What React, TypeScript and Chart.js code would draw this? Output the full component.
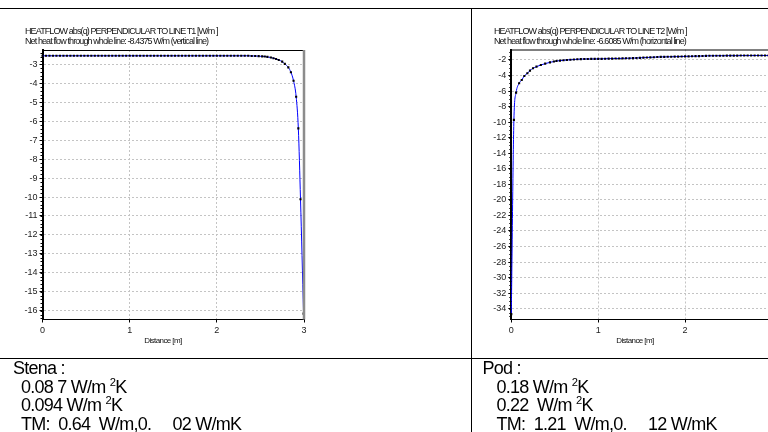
import React, { useEffect, useRef } from 'react';
import { Chart, registerables } from 'chart.js';

Chart.register(...registerables);

// ---------- data ----------
const xTicks = [0, 1, 2, 3];
const leftYTicks = [-3, -4, -5, -6, -7, -8, -9, -10, -11, -12, -13, -14, -15, -16];
const rightYTicks = [-2, -4, -6, -8, -10, -12, -14, -16, -18, -20, -22, -24, -26, -28, -30, -32, -34];

const leftX = [
  0, 0.04, 0.08, 0.12, 0.16, 0.2, 0.24, 0.28, 0.32, 0.36, 0.4, 0.44, 0.48, 0.52, 0.56, 0.6, 0.64, 0.68, 0.72, 0.76,
  0.8, 0.84, 0.88, 0.92, 0.96, 1, 1.04, 1.08, 1.12, 1.16, 1.2, 1.24, 1.28, 1.32, 1.36, 1.4, 1.44, 1.48, 1.52, 1.56,
  1.6, 1.64, 1.68, 1.72, 1.76, 1.8, 1.84, 1.88, 1.92, 1.96, 2, 2.04, 2.08, 2.12, 2.16, 2.2, 2.24, 2.28, 2.32,
  2.36, 2.4, 2.44, 2.48, 2.52, 2.55, 2.58, 2.62, 2.65, 2.68, 2.71, 2.75, 2.78, 2.82, 2.85, 2.88, 2.91, 2.935, 2.96, 2.995,
];
const leftY = [
  -2.55, -2.55, -2.55, -2.55, -2.55, -2.55, -2.55, -2.55, -2.55, -2.55, -2.55, -2.55, -2.55, -2.55, -2.55, -2.55, -2.55, -2.55, -2.55, -2.55,
  -2.55, -2.55, -2.55, -2.55, -2.55, -2.55, -2.55, -2.55, -2.55, -2.55, -2.55, -2.55, -2.55, -2.55, -2.55, -2.55, -2.55, -2.55, -2.55, -2.55,
  -2.55, -2.55, -2.55, -2.55, -2.55, -2.55, -2.55, -2.55, -2.55, -2.55, -2.55, -2.55, -2.55, -2.55, -2.55, -2.55, -2.55, -2.55, -2.55,
  -2.55, -2.56, -2.56, -2.57, -2.58, -2.59, -2.61, -2.64, -2.68, -2.72, -2.77, -2.86, -2.98, -3.16, -3.42, -3.87, -4.71, -6.38, -10.12, -16.15,
];

const rightX = [
  0, 0.03, 0.055, 0.09, 0.12, 0.15, 0.185, 0.215, 0.25, 0.29, 0.34, 0.39, 0.445, 0.49, 0.52, 0.56, 0.6, 0.64, 0.68, 0.72, 0.76, 0.8,
  0.84, 0.88, 0.92, 0.96, 1, 1.04, 1.08, 1.12, 1.16, 1.2, 1.24, 1.28,
  1.32, 1.36, 1.4, 1.44, 1.48, 1.52, 1.56, 1.6, 1.64, 1.68, 1.72,
  1.76, 1.8, 1.84, 1.88, 1.92, 1.96, 2, 2.04, 2.08, 2.12, 2.16, 2.2,
  2.24, 2.28, 2.32, 2.36, 2.4, 2.44, 2.48, 2.52, 2.56, 2.6, 2.64, 2.68, 2.72, 2.76, 2.8, 2.84, 2.88, 2.92, 2.96, 3,
];
const rightY = [
  -34.7, -9.7, -6.2, -5.0, -4.57, -4.06, -3.71, -3.37, -3.07, -2.86, -2.64, -2.47, -2.3, -2.2, -2.13, -2.08, -2.04, -2.0, -1.97, -1.94, -1.91, -1.89,
  -1.87, -1.87, -1.86, -1.86, -1.85, -1.85, -1.84, -1.83, -1.82, -1.81, -1.8, -1.79,
  -1.78, -1.77, -1.76, -1.74, -1.72, -1.7, -1.68, -1.66, -1.64, -1.62, -1.6,
  -1.6, -1.59, -1.58, -1.57, -1.56, -1.55, -1.54, -1.53, -1.52, -1.51, -1.5, -1.49,
  -1.47, -1.46, -1.46, -1.45, -1.45, -1.45, -1.44, -1.44, -1.44, -1.44, -1.43, -1.43, -1.43, -1.43, -1.42, -1.42, -1.42, -1.42, -1.42, -1.42,
];

const leftTitle1 = 'HEATFLOW abs(q) PERPENDICULAR TO LINE T1 [W/m ]';
const leftTitle2 = 'Net heat flow through whole line: -8.4375 W/m (vertical line)';
const rightTitle1 = 'HEATFLOW abs(q) PERPENDICULAR TO LINE T2 [W/m ]';
const rightTitle2 = 'Net heat flow through whole line: -6.6085 W/m (horizontal line)';
const xAxisLabel = 'Distance [m]';

// ---------- chart helpers ----------
const FONT = "'Liberation Sans', Arial, sans-serif";

const boxPlugin = {
  id: 'box',
  afterDraw(chart: any, _args: any, opts: any) {
    const { ctx, chartArea: a } = chart;
    ctx.save();
    ctx.strokeStyle = '#000';
    ctx.lineWidth = 1;
    ctx.beginPath();
    ctx.moveTo(a.left, a.top + 0.5);
    ctx.lineTo(a.right, a.top + 0.5);
    ctx.stroke();
    ctx.strokeStyle = '#8c8c8c';
    ctx.lineWidth = 2.5;
    ctx.beginPath();
    ctx.moveTo(a.right, a.top);
    ctx.lineTo(a.right, a.bottom);
    ctx.stroke();
    // minor ticks on y axis
    const ys = chart.scales.y;
    const step = opts.minorStep;
    ctx.strokeStyle = '#000';
    ctx.lineWidth = 1;
    ctx.beginPath();
    for (let v = Math.ceil(ys.min / step) * step; v <= ys.max; v += step) {
      const py = Math.round(ys.getPixelForValue(v)) + 0.5;
      ctx.moveTo(a.left - 2, py);
      ctx.lineTo(a.left, py);
    }
    ctx.stroke();
    ctx.restore();
  },
};

function buildConfig(p: any) {
  const tickFont = { family: FONT, size: 9 };
  return {
    type: 'line',
    data: {
      datasets: [
        {
          data: p.xs.map((x: number, i: number) => ({ x, y: p.ys[i] })),
          borderColor: '#0000ff',
          borderWidth: 1,
          pointStyle: 'rect',
          pointRadius: 1.5,
          pointBackgroundColor: '#000',
          pointBorderWidth: 0,
          cubicInterpolationMode: 'monotone',
          clip: 4,
        },
      ],
    },
    options: {
      responsive: false,
      animation: false,
      events: [],
      layout: { padding: { left: 0, top: p.top, right: p.padRight, bottom: 0 } },
      plugins: {
        legend: { display: false },
        tooltip: { enabled: false },
        box: { minorStep: p.minorStep },
      },
      scales: {
        x: {
          type: 'linear',
          min: 0,
          max: 3,
          afterBuildTicks: (s: any) => {
            s.ticks = xTicks.map((v) => ({ value: v }));
          },
          afterFit: (s: any) => {
            s.height = p.xHeight;
          },
          grid: { color: '#c4c4c4', lineWidth: 1, tickLength: 3, tickColor: '#000' },
          border: { display: true, color: '#000', width: 1, dash: [2, 2] },
          ticks: { font: tickFont, color: '#222', padding: 3, maxRotation: 0, autoSkip: false },
        },
        y: {
          type: 'linear',
          min: p.yMin,
          max: p.yMax,
          afterBuildTicks: (s: any) => {
            s.ticks = p.yTicks.map((v: number) => ({ value: v }));
          },
          afterFit: (s: any) => {
            s.width = p.yWidth;
          },
          grid: { color: '#c4c4c4', lineWidth: 1, tickLength: 3, tickColor: '#000' },
          border: { display: true, color: '#000', width: 2, dash: [2, 2] },
          ticks: { font: tickFont, color: '#222', padding: 2, autoSkip: false },
        },
      },
    },
    plugins: [boxPlugin],
  } as any;
}

const CW = 330;
const CH = 350;

const titleStyle: React.CSSProperties = {
  position: 'absolute',
  fontSize: 9,
  lineHeight: '10px',
  letterSpacing: '-0.9px',
  whiteSpace: 'pre',
  color: '#111',
};

const bodyLine: React.CSSProperties = {
  height: 18.5,
  lineHeight: '18.5px',
  whiteSpace: 'pre',
};

const bodyBlock: React.CSSProperties = {
  position: 'absolute',
  top: 359,
  fontSize: 18,
  letterSpacing: '-0.75px',
};

const Sup = () => <span style={{ fontSize: '0.62em', position: 'relative', top: '-0.6em' }}>2</span>;

export default function App() {
  const leftRef = useRef<HTMLCanvasElement>(null);
  const rightRef = useRef<HTMLCanvasElement>(null);

  useEffect(() => {
    const c1 = new Chart(
      leftRef.current as HTMLCanvasElement,
      buildConfig({
        xs: leftX,
        ys: leftY,
        yTicks: leftYTicks,
        yMin: -16.46,
        yMax: -2.245,
        top: 50,
        padRight: CW - 304,
        yWidth: 42.5,
        xHeight: CH - 319.5,
        minorStep: 0.2,
      })
    );
    const c2 = new Chart(
      rightRef.current as HTMLCanvasElement,
      buildConfig({
        xs: rightX,
        ys: rightY,
        yTicks: rightYTicks,
        yMin: -35.39,
        yMax: -0.65,
        top: 49.5,
        padRight: CW - (772 - 471),
        yWidth: 511.3 - 471,
        xHeight: CH - 319.5,
        minorStep: 0.5,
      })
    );
    return () => {
      c1.destroy();
      c2.destroy();
    };
  }, []);

  return (
    <div
      style={{
        position: 'fixed',
        left: 0,
        top: 0,
        width: 768,
        height: 432,
        overflow: 'hidden',
        background: '#fff',
        fontFamily: FONT,
        color: '#000',
      }}
    >
      <canvas ref={leftRef} width={CW} height={CH} style={{ position: 'absolute', left: 0, top: 0, width: CW, height: CH }} />
      <canvas ref={rightRef} width={CW} height={CH} style={{ position: 'absolute', left: 471, top: 0, width: CW, height: CH }} />

      {/* table rules */}
      <div style={{ position: 'absolute', left: 0, top: 8, width: 768, height: 1, background: '#000' }} />
      <div style={{ position: 'absolute', left: 471, top: 8, width: 1, height: 424, background: '#000' }} />
      <div style={{ position: 'absolute', left: 0, top: 358, width: 768, height: 1, background: '#000' }} />

      {/* chart titles */}
      <div style={{ ...titleStyle, left: 25, top: 25.5 }}>{leftTitle1}</div>
      <div style={{ ...titleStyle, left: 25, top: 36 }}>{leftTitle2}</div>
      <div style={{ ...titleStyle, left: 494, top: 25.5 }}>{rightTitle1}</div>
      <div style={{ ...titleStyle, left: 494, top: 36 }}>{rightTitle2}</div>

      <div style={{ ...titleStyle, fontSize: 8, letterSpacing: '-0.6px', left: 128, width: 70, textAlign: 'center', top: 336 }}>{xAxisLabel}</div>
      <div style={{ ...titleStyle, fontSize: 8, letterSpacing: '-0.6px', left: 600, width: 70, textAlign: 'center', top: 336 }}>{xAxisLabel}</div>

      {/* bottom texts */}
      <div style={{ ...bodyBlock, left: 13 }}>
        <div style={bodyLine}>Stena :</div>
        <div style={{ ...bodyLine, paddingLeft: 8 }}>
          0.08 7 W/m <Sup />K
        </div>
        <div style={{ ...bodyLine, paddingLeft: 8 }}>
          0.094 W/m <Sup />K
        </div>
        <div style={{ ...bodyLine, paddingLeft: 8 }}>{'TM:  0.64  W/m,0.     02 W/mK'}</div>
      </div>
      <div style={{ ...bodyBlock, left: 482.5 }}>
        <div style={bodyLine}>Pod :</div>
        <div style={{ ...bodyLine, paddingLeft: 14 }}>
          0.18 W/m <Sup />K
        </div>
        <div style={{ ...bodyLine, paddingLeft: 14 }}>
          {'0.22  W/m '}
          <Sup />K
        </div>
        <div style={{ ...bodyLine, paddingLeft: 14 }}>{'TM:  1.21  W/m,0.     12 W/mK'}</div>
      </div>
    </div>
  );
}
